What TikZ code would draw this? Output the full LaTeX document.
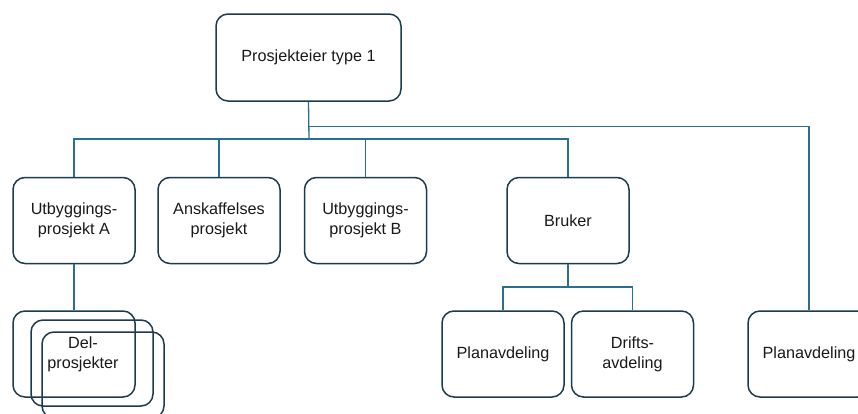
\documentclass[tikz,border=0pt]{standalone}
\usepackage{fontspec}
\setmainfont{Liberation Sans}
\definecolor{linec}{HTML}{2A6F8F}
\definecolor{boxc}{HTML}{1C3B4C}
\begin{document}
\begin{tikzpicture}[x=1pt,y=-1pt,
  boxtext/.style={font=\fontsize{16.2}{20}\selectfont,text=black!90},
  box/.style={draw=boxc,line width=1.5pt,rounded corners=12pt,minimum width=122pt,minimum height=86pt,inner sep=0pt,align=center,boxtext},
  conn/.style={draw=linec,line width=1.3pt}]
\useasboundingbox (0,0) rectangle (858,413);
\node[box,minimum width=185pt,minimum height=87pt] (top) at (308.5,57.5) {Prosjekteier type 1};
\node[box] (A) at (74,220.5) {Utbyggings-\\prosjekt A};
\node[box] (Ansk) at (219,220.5) {Anskaffelses\\prosjekt};
\node[box] (B) at (365.5,220.5) {Utbyggings-\\prosjekt B};
\node[box] (Bruker) at (568,220.5) {Bruker};
\node[box] (PlanA) at (503,354) {Planavdeling};
\node[box] (Drifts) at (632.5,354) {Drifts-\\avdeling};
\node[box] (PlanR) at (809,354) {Planavdeling};
\node[box] (D1) at (74,354) {};
\node[box] (D2) at (92,363) {};
\node[box] (D3) at (103,375) {};
\node[align=center,inner sep=0pt,boxtext] (Dtext) at (83,354) {Del-\\prosjekter};
\coordinate (j1) at (309,139);
\coordinate (j2) at (309,126.5);
\coordinate (j3) at (568,287);
\draw[conn] (top.south) -- (j1);
\draw[conn] (A.north) |- (j1);
\draw[conn] (Ansk.north) |- (j1);
\draw[conn] (B.north) |- (j1);
\draw[conn] (Bruker.north) |- (j1);
\draw[conn] (PlanR.north) |- (j2);
\draw[conn] (A.south) -- (D1.north);
\draw[conn] (Bruker.south) -- (j3);
\draw[conn] (PlanA.north) |- (j3);
\draw[conn] (Drifts.north) |- (j3);
\end{tikzpicture}
\end{document}
